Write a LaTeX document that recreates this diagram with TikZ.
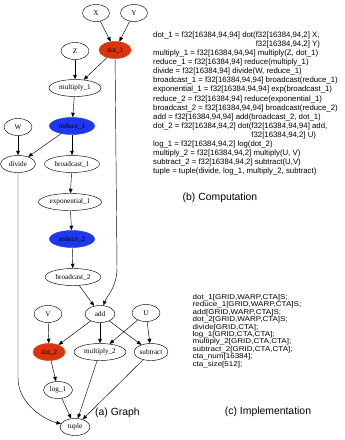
\documentclass[tikz,border=0pt]{standalone}
\usepackage{fontspec}
\setmainfont{Liberation Serif}
\newfontfamily\arialf{Liberation Sans}
\newfontfamily\arialw[FakeStretch=1.15]{Liberation Sans}
\usetikzlibrary{shapes.geometric,arrows.meta}
\definecolor{gred}{RGB}{220,52,12}
\definecolor{gblue}{RGB}{30,56,240}
\begin{document}
\begin{tikzpicture}[x=1pt,y=-1pt,
  gn/.style={ellipse,draw,line width=0.45pt,minimum height=17pt,inner sep=0pt,font=\fontsize{7.2}{8}\selectfont},
  rn/.style={gn,fill=gred,draw=gred},
  bn/.style={gn,fill=gblue,draw=gblue},
  arr/.style={-{Triangle[length=4.5pt,width=3.6pt]},line width=0.45pt},
  codeb/.style={font=\arialf\fontsize{7.8}{9.1}\selectfont,align=left,inner sep=0pt,anchor=north west},
  codec/.style={font=\arialw\fontsize{7}{7.45}\selectfont,align=left,inner sep=0pt,anchor=north west},
  captxt/.style={font=\arialf\fontsize{10.4}{12}\selectfont,inner sep=0pt}]
\useasboundingbox[fill=white] (0,0) rectangle (345,440);
% graph nodes
\node[gn,minimum width=27pt] (X) at (96,13) {X};
\node[gn,minimum width=27pt] (Y) at (134,13) {Y};
\node[rn,minimum width=32pt] (dot1) at (115,50) {dot\_1};
\node[gn,minimum width=28pt] (Z) at (75,51) {Z};
\node[gn,minimum width=52pt] (mul1) at (75,88) {multiply\_1};
\node[gn,minimum width=28pt] (W) at (18,127) {W};
\node[bn,minimum width=45pt] (red1) at (72,126) {reduce\_1};
\node[gn,minimum width=35pt] (div) at (18,164) {divide};
\node[gn,minimum width=55pt] (bc1) at (72,164) {broadcast\_1};
\node[gn,minimum width=63pt] (exp1) at (70,202) {exponential\_1};
\node[bn,minimum width=45pt] (red2) at (72,239) {reduce\_2};
\node[gn,minimum width=56pt] (bc2) at (73,277) {broadcast\_2};
\node[gn,minimum width=30pt] (add) at (100,314) {add};
\node[gn,minimum width=28pt] (V) at (48,314) {V};
\node[gn,minimum width=28pt] (U) at (146,313) {U};
\node[rn,minimum width=32pt] (dot2) at (49,352) {dot\_2};
\node[gn,minimum width=52pt] (mul2) at (100,352) {multiply\_2};
\node[gn,minimum width=34pt] (sub) at (151,352) {subtract};
\node[gn,minimum width=29pt] (log1) at (58,390) {log\_1};
\node[gn,minimum width=30pt] (tuple) at (75,427) {tuple};
% helper coordinates
\coordinate (dvA) at (18,378);
\coordinate (dvB) at (18,404);
\coordinate (dvC) at (45,420);
\coordinate (dA) at (117,268);
\coordinate (dB) at (117,287);
\coordinate (dC) at (107,296);
% edges
\draw[arr] (X) -- (dot1);
\draw[arr] (Y) -- (dot1);
\draw[arr] (Z) -- (mul1);
\draw[arr] (dot1) -- (mul1);
\draw[arr] (mul1) -- (red1);
\draw[arr] (W) -- (div);
\draw[arr] (red1) -- (div);
\draw[arr] (red1) -- (bc1);
\draw[arr] (bc1) -- (exp1);
\draw[arr] (exp1) -- (red2);
\draw[arr] (red2) -- (bc2);
\draw[arr] (bc2) -- (add);
\draw[arr] (dot1) -- (dA) .. controls (dB) and (dC) .. (add);
\draw[arr] (V) -- (dot2);
\draw[arr] (add) -- (dot2);
\draw[arr] (add) -- (mul2);
\draw[arr] (add) -- (sub);
\draw[arr] (U) -- (mul2);
\draw[arr] (U) -- (sub);
\draw[arr] (dot2) -- (log1);
\draw[arr] (log1) -- (tuple);
\draw[arr] (mul2) -- (tuple);
\draw[arr] (sub) -- (tuple);
\draw[arr] (div) -- (dvA) .. controls (dvB) and (dvC) .. (tuple);
% captions
\node[captxt,anchor=west] (capa) at (95,413) {(a) Graph};
\node[captxt] (capb) at (220,198) {(b) Computation};
\node[captxt] (capc) at (268,412) {(c) Implementation};
% computation text
\node[codeb] (comp) at (153,31.5) {dot\_1 = f32[16384,94,94] dot(f32[16384,94,2] X,\\
\phantom{dot\_1 = f32[16384,94,94] dot(}f32[16384,94,2] Y)\\
multiply\_1 = f32[16384,94,94] multiply(Z, dot\_1)\\
reduce\_1 = f32[16384,94] reduce(multiply\_1)\\
divide = f32[16384,94] divide(W, reduce\_1)\\
broadcast\_1 = f32[16384,94,94] broadcast(reduce\_1)\\
exponential\_1 = f32[16384,94,94] exp(broadcast\_1)\\
reduce\_2 = f32[16384,94] reduce(exponential\_1)\\
broadcast\_2 = f32[16384,94,94] broadcast(reduce\_2)\\
add = f32[16384,94,94] add(broadcast\_2, dot\_1)\\
dot\_2 = f32[16384,94,2] dot(f32[16384,94,94] add,\\
\phantom{dot\_2 = f32[16384,94,2] dot(}f32[16384,94,2] U)\\
log\_1 = f32[16384,94,2] log(dot\_2)\\
multiply\_2 = f32[16384,94,2] multiply(U, V)\\
subtract\_2 = f32[16384,94,2] subtract(U,V)\\
tuple = tuple(divide, log\_1, multiply\_2, subtract)};
% implementation text
\node[codec] (impl) at (192.5,294) {dot\_1[GRID,WARP,CTA]S;\\
reduce\_1[GRID,WARP,CTA]S;\\
add[GRID,WARP,CTA]S;\\
dot\_2[GRID,WARP,CTA]S;\\
divide[GRID,CTA];\\
log\_1[GRID,CTA,CTA];\\
multiply\_2[GRID,CTA,CTA];\\
subtract\_2[GRID,CTA,CTA];\\
cta\_num[16384];\\
cta\_size[512];};
\end{tikzpicture}
\end{document}
